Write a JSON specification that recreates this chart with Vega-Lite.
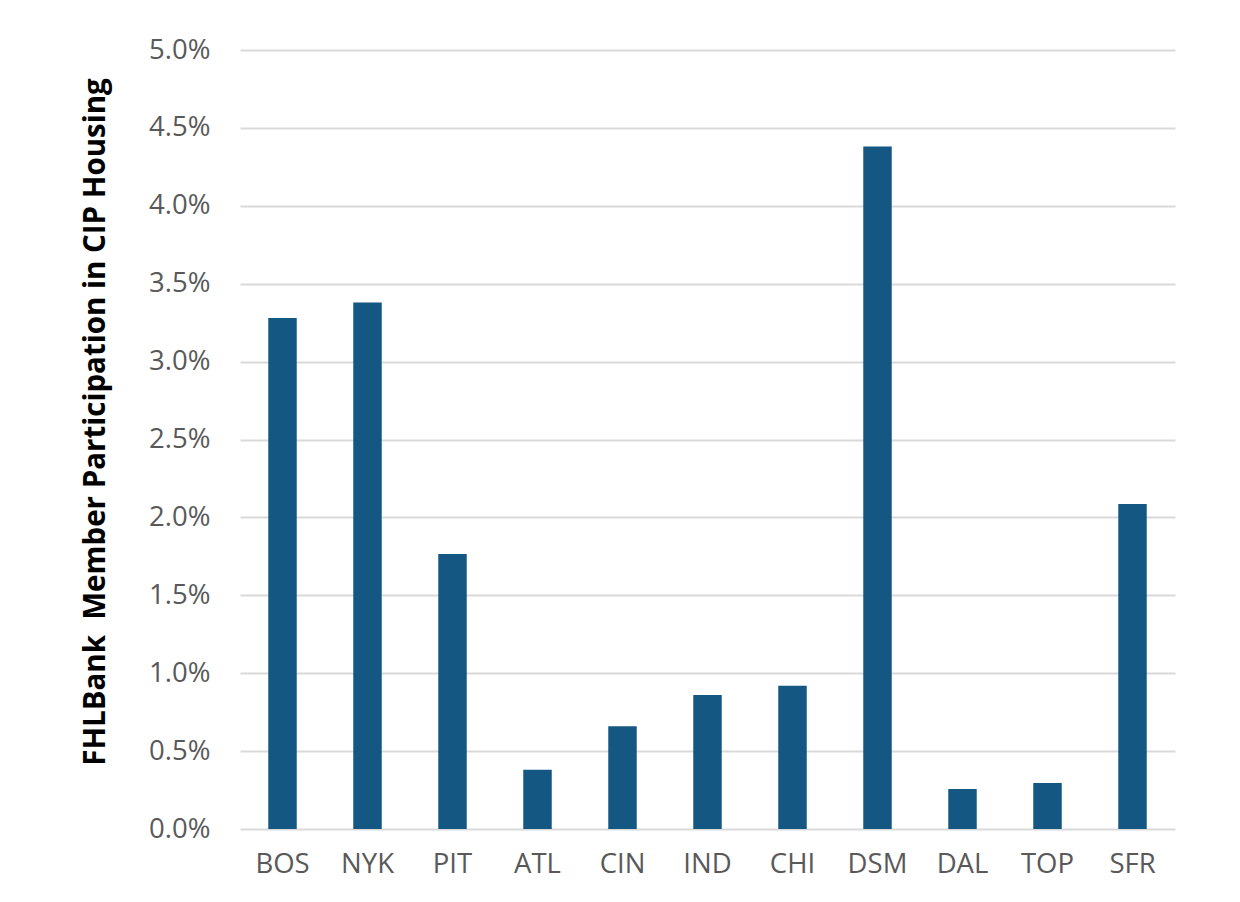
{
  "$schema": "https://vega.github.io/schema/vega-lite/v6.json",
  "autosize": {"type": "none"},
  "width": 935,
  "height": 779,
  "padding": {"left": 240, "top": 50, "right": 65, "bottom": 73},
  "background": "white",
  "config": {"view": {"stroke": null}, "font": "Open Sans"},
  "data": {"values": [
    {"bank": "BOS", "value": 0.0328},
    {"bank": "NYK", "value": 0.0338},
    {"bank": "PIT", "value": 0.01765},
    {"bank": "ATL", "value": 0.0038},
    {"bank": "CIN", "value": 0.0066},
    {"bank": "IND", "value": 0.0086},
    {"bank": "CHI", "value": 0.0092},
    {"bank": "DSM", "value": 0.0438},
    {"bank": "DAL", "value": 0.00257},
    {"bank": "TOP", "value": 0.00295},
    {"bank": "SFR", "value": 0.02086}
  ]},
  "mark": {"type": "bar", "color": "#135782"},
  "encoding": {
    "x": {
      "field": "bank", "type": "nominal", "sort": null,
      "scale": {"paddingInner": 0.665, "paddingOuter": 0.3325},
      "axis": {"title": null, "labelAngle": 0, "labelFont": "Open Sans", "labelFontSize": 27.5, "labelColor": "#595959", "labelPadding": 21, "ticks": false, "domain": false, "grid": false}
    },
    "y": {
      "field": "value", "type": "quantitative",
      "scale": {"domain": [0, 0.05], "nice": false},
      "axis": {
        "title": "FHLBank \u00a0Member Participation in CIP Housing",
        "titleFont": "Open Sans", "titleFontSize": 29.5, "titleFontWeight": "bold", "titleColor": "#000000",
        "titlePadding": 38, "titleY": 371.5,
        "values": [0, 0.005, 0.01, 0.015, 0.02, 0.025, 0.03, 0.035, 0.04, 0.045, 0.05],
        "format": ".1%",
        "labelFont": "Open Sans", "labelFontSize": 27.5, "labelColor": "#595959", "labelPadding": 30,
        "ticks": false, "domain": false,
        "grid": true, "gridColor": "#d9d9d9", "gridWidth": 2
      }
    }
  }
}
